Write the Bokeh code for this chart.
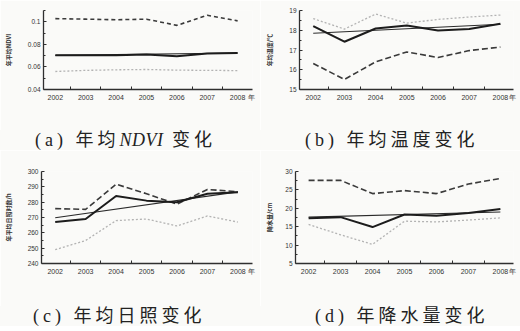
from bokeh.plotting import figure
from bokeh.layouts import column, row
from bokeh.models import FixedTicker, Range1d, Div
from bokeh.embed import file_html
from bokeh.resources import INLINE

years = [2002, 2003, 2004, 2005, 2006, 2007, 2008]
year_labels = ["2002", "2003", "2004", "2005", "2006", "2007", "2008"]
trend_years = [2002, 2008]
year_unit = "年"

# (a) NDVI
ndvi_s1 = [0.103, 0.1025, 0.102, 0.1025, 0.097, 0.106, 0.101]
ndvi_s2 = [0.0705, 0.0705, 0.0705, 0.071, 0.0695, 0.072, 0.0725]
ndvi_s3 = [0.056, 0.057, 0.0575, 0.0578, 0.0572, 0.057, 0.0568]
ndvi_trend = [0.0703, 0.0725]
ndvi_ticks = [0.04, 0.06, 0.08, 0.1]
ndvi_tick_labels = ["0.04", "0.06", "0.08", "0.1"]

# (b) temperature
temp_s1 = [16.32, 15.51, 16.40, 16.90, 16.62, 16.97, 17.15]
temp_s2 = [18.21, 17.42, 18.09, 18.24, 17.99, 18.06, 18.33]
temp_s3 = [18.59, 18.06, 18.82, 18.36, 18.55, 18.67, 18.77]
temp_trend = [17.85, 18.30]
temp_ticks = [15, 16, 17, 18, 19]
temp_tick_labels = ["15", "16", "17", "18", "19"]

# (c) sunshine
sun_s1 = [275.8, 275.3, 291.7, 285.5, 278.7, 288.3, 286.8]
sun_s2 = [267.0, 269.0, 284.0, 281.0, 280.0, 285.5, 286.5]
sun_s3 = [249.0, 255.0, 268.0, 269.0, 264.5, 271.0, 267.0]
sun_trend = [269.8, 286.7]
sun_ticks = [240, 250, 260, 270, 280, 290, 300]
sun_tick_labels = ["240", "250", "260", "270", "280", "290", "300"]

# (d) precipitation
pre_s1 = [27.6, 27.6, 24.0, 24.8, 24.0, 26.6, 28.1]
pre_s2 = [17.3, 17.6, 14.9, 18.3, 18.0, 18.7, 19.8]
pre_s3 = [15.6, 12.8, 10.2, 16.5, 16.3, 16.8, 17.4]
pre_trend = [17.6, 19.0]
pre_ticks = [5, 10, 15, 20, 25, 30]
pre_tick_labels = ["5", "10", "15", "20", "25", "30"]

captions = ["(a) 年均<i style='letter-spacing:0.5px'>NDVI</i> 变化", "(b) 年均温度变化",
            "(c) 年均日照变化", "(d) 年降水量变化"]
ylabels = ["年平均NDVI", "年均温度/℃", "年平均日照时数/h", "降水量/cm"]

BG = "#fafaf8"
AX = "#2f2f2f"


def panel(s1, s2, s3, trend, yr, yticks, ytlabels, ylabel, xr,
          w, h, bl, br, bt, bb, ystand, dash):
    p = figure(width=w, height=h, output_backend="svg", toolbar_location=None,
               x_range=Range1d(*xr), y_range=Range1d(*yr),
               min_border_left=bl, min_border_right=br,
               min_border_top=bt, min_border_bottom=bb,
               background_fill_color=BG, border_fill_color=BG)
    p.outline_line_color = None
    p.grid.visible = False

    p.line(years, s1, line_color="#3a3a3a", line_width=1.6, line_dash=dash)
    p.line(years, s3, line_color="#b3b3b3", line_width=1.3, line_dash="2 2")
    p.line(trend_years, trend, line_color="#2a2a2a", line_width=1.1)
    p.line(years, s2, line_color="#1c1c1c", line_width=2.0)

    mids = [y + 0.5 for y in years[:-1]]
    unit_pos = round(xr[1] - 0.03, 2)
    p.xaxis.ticker = FixedTicker(ticks=years + [unit_pos], minor_ticks=mids)
    overrides = {y: l for y, l in zip(years, year_labels)}
    overrides[unit_pos] = year_unit
    p.xaxis.major_label_overrides = overrides
    p.xaxis.major_tick_in = 0
    p.xaxis.major_tick_out = 0
    p.xaxis.minor_tick_in = 3
    p.xaxis.minor_tick_out = 0
    p.xaxis.major_label_standoff = 4
    p.xaxis.major_label_text_font_size = "7px"

    step = yticks[1] - yticks[0]
    ymin_ticks = [t + step / 2 for t in yticks]
    p.yaxis.ticker = FixedTicker(ticks=yticks, minor_ticks=ymin_ticks)
    p.yaxis.major_label_overrides = {t: l for t, l in zip(yticks, ytlabels)}
    p.yaxis.major_tick_in = 3
    p.yaxis.major_tick_out = 0
    p.yaxis.minor_tick_in = 2
    p.yaxis.minor_tick_out = 0
    p.yaxis.major_label_standoff = 3
    p.yaxis.major_label_text_font_size = "6.5px"
    p.yaxis.axis_label = ylabel
    p.yaxis.axis_label_standoff = ystand
    p.yaxis.axis_label_text_font = "Noto Sans CJK SC"
    p.yaxis.axis_label_text_font_size = "6px"
    p.yaxis.axis_label_text_font_style = "bold"
    p.yaxis.axis_label_text_color = "#333333"

    for ax in (p.xaxis, p.yaxis):
        ax.axis_line_color = AX
        ax.axis_line_width = 1.3
        ax.major_tick_line_color = AX
        ax.minor_tick_line_color = AX
        ax.major_label_text_color = "#333333"
    return p


def caption(text, pad_left):
    return Div(text=text, width=260, height=20, margin=(0, 0, 0, 0),
               styles={"font-family": "'Liberation Serif', 'Noto Sans CJK SC', serif",
                       "font-size": "18px", "line-height": "20px",
                       "letter-spacing": "4px", "color": "#222222",
                       "padding-left": f"{pad_left}px", "white-space": "nowrap",
                       "box-sizing": "border-box", "overflow": "hidden",
                       "background-color": BG})


pa = panel(ndvi_s1, ndvi_s2, ndvi_s3, ndvi_trend, (0.04, 0.1102), ndvi_ticks,
           ndvi_tick_labels, ylabels[0], (2001.61, 2008.49),
           260, 130, 40, 8, 10, 41, 12, "4 3")
pb = panel(temp_s1, temp_s2, temp_s3, temp_trend, (15, 19), temp_ticks,
           temp_tick_labels, ylabels[1], (2001.56, 2008.42),
           260, 130, 39, 7, 6, 36, 12, "6 3")
pc = panel(sun_s1, sun_s2, sun_s3, sun_trend, (240, 300), sun_ticks,
           sun_tick_labels, ylabels[2], (2001.55, 2008.48),
           260, 156, 36, 8, 12, 43, 12, "6 3")
pd = panel(pre_s1, pre_s2, pre_s3, pre_trend, (5, 30), pre_ticks,
           pre_tick_labels, ylabels[3], (2001.59, 2008.41),
           260, 156, 35, 7, 21, 38, 8, "6 3")

layout = column(row(pa, pb),
                row(caption(captions[0], 35), caption(captions[1], 45)),
                row(pc, pd),
                row(caption(captions[2], 33), caption(captions[3], 55)))
open("out.html", "w").write(file_html(layout, INLINE))
